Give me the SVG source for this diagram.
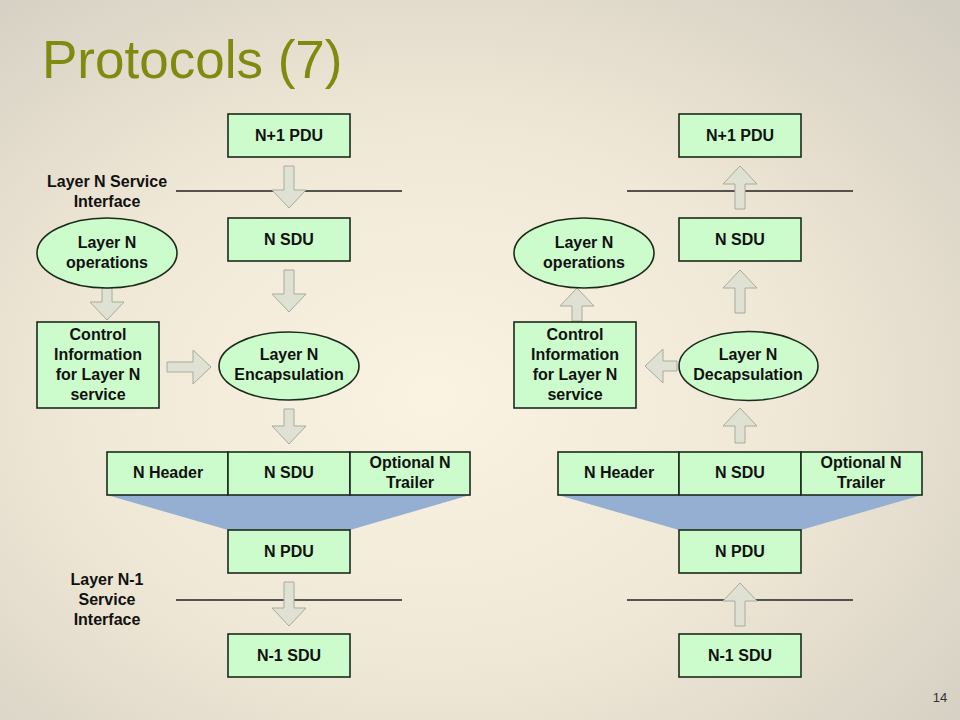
<svg xmlns="http://www.w3.org/2000/svg" width="960" height="720" viewBox="0 0 960 720">
<defs>
<radialGradient id="bg" cx="45%" cy="55%" r="75%">
<stop offset="0" stop-color="#fbf3e2"/>
<stop offset="0.5" stop-color="#f0e8d6"/>
<stop offset="1" stop-color="#d3cec2"/>
</radialGradient>
</defs>
<style>
.box{fill:#ccfccc;stroke:#1c2a1c;stroke-width:1.6}
.lbl{font-family:"Liberation Sans",Arial,sans-serif;font-weight:bold;font-size:16px;fill:#111;text-anchor:middle}
.side{font-family:"Liberation Sans",Arial,sans-serif;font-weight:bold;font-size:16px;fill:#111;text-anchor:middle}
.arr{fill:#dfe2d3;stroke:#a6ab9c;stroke-width:1;stroke-linejoin:round}
.ifl{stroke:#222;stroke-width:1.4}
.trap{fill:#95afd3}
</style>
<rect x="0" y="0" width="960" height="720" fill="url(#bg)"/>
<text x="42" y="78" font-family="'Liberation Sans',Arial,sans-serif" font-size="53" fill="#7f8a0e">Protocols (7)</text>
<text x="940" y="702" font-family="'Liberation Sans',Arial,sans-serif" font-size="13" fill="#333" text-anchor="middle">14</text>

<g id="interfaces">
<line class="ifl" x1="176" y1="191" x2="402" y2="191"/>
<line class="ifl" x1="176" y1="600" x2="402" y2="600"/>
<line class="ifl" x1="627" y1="191" x2="853" y2="191"/>
<line class="ifl" x1="627" y1="600" x2="853" y2="600"/>
<text class="side" x="107" y="187">Layer N Service</text>
<text class="side" x="107" y="207">Interface</text>
<text class="side" x="107" y="585">Layer N-1</text>
<text class="side" x="107" y="605">Service</text>
<text class="side" x="107" y="625">Interface</text>
</g>

<g id="funnels">
<polygon class="trap" points="107,495 470,495 350,530 228,530"/>
<polygon class="trap" points="558,495 922,495 801,530 679,530"/>
</g>

<g id="connectors">
<path class="arr" d="M284,166 h10 V190 h12 L289,208 L272,190 h12 Z"/>
<path class="arr" d="M284,270 h10 V294 h12 L289,312 L272,294 h12 Z"/>
<path class="arr" d="M102,288 h10 V302 h12 L107,320 L90,302 h12 Z"/>
<path class="arr" d="M167,362 H193 V350 L211,367 L193,384 V372 H167 Z"/>
<path class="arr" d="M284,409 h10 V426 h12 L289,444 L272,426 h12 Z"/>
<path class="arr" d="M284,582 h10 V608 h12 L289,626 L272,608 h12 Z"/>
<path class="arr" d="M735,209 h10 V184 h12 L740,166 L723,184 h12 Z"/>
<path class="arr" d="M735,313 h10 V288 h12 L740,270 L723,288 h12 Z"/>
<path class="arr" d="M572,321 h10 V306 h12 L577,288 L560,306 h12 Z"/>
<path class="arr" d="M677,361 H663 V349 L645,366 L663,383 V371 H677 Z"/>
<path class="arr" d="M735,443 h10 V426 h12 L740,408 L723,426 h12 Z"/>
<path class="arr" d="M735,626 h10 V601 h12 L740,583 L723,601 h12 Z"/>
</g>

<g id="L-n1pdu"><rect class="box" x="228" y="114" width="122" height="43"/><text class="lbl" x="289" y="141">N+1 PDU</text></g>
<g id="L-nsdu"><rect class="box" x="228" y="218" width="122" height="43"/><text class="lbl" x="289" y="245">N SDU</text></g>
<g id="L-ops"><ellipse class="box" cx="107" cy="253" rx="70" ry="35"/><text class="lbl" x="107" y="248">Layer N</text><text class="lbl" x="107" y="268">operations</text></g>
<g id="L-ctrl"><rect class="box" x="37" y="322" width="122" height="86"/><text class="lbl" x="98" y="340">Control</text><text class="lbl" x="98" y="360">Information</text><text class="lbl" x="98" y="380">for Layer N</text><text class="lbl" x="98" y="400">service</text></g>
<g id="L-encap"><ellipse class="box" cx="289" cy="366" rx="70" ry="34"/><text class="lbl" x="289" y="360">Layer N</text><text class="lbl" x="289" y="380">Encapsulation</text></g>
<g id="L-row">
<rect class="box" x="107" y="452" width="121" height="43"/><text class="lbl" x="168" y="478">N Header</text>
<rect class="box" x="228" y="452" width="122" height="43"/><text class="lbl" x="289" y="478">N SDU</text>
<rect class="box" x="350" y="452" width="120" height="43"/><text class="lbl" x="410" y="468">Optional N</text><text class="lbl" x="410" y="488">Trailer</text>
</g>
<g id="L-npdu"><rect class="box" x="228" y="530" width="122" height="43"/><text class="lbl" x="289" y="557">N PDU</text></g>
<g id="L-n1sdu"><rect class="box" x="228" y="634" width="122" height="43"/><text class="lbl" x="289" y="661">N-1 SDU</text></g>

<g id="R-n1pdu"><rect class="box" x="679" y="114" width="122" height="43"/><text class="lbl" x="740" y="141">N+1 PDU</text></g>
<g id="R-nsdu"><rect class="box" x="679" y="218" width="122" height="43"/><text class="lbl" x="740" y="245">N SDU</text></g>
<g id="R-ops"><ellipse class="box" cx="584" cy="253" rx="70" ry="35"/><text class="lbl" x="584" y="248">Layer N</text><text class="lbl" x="584" y="268">operations</text></g>
<g id="R-ctrl"><rect class="box" x="514" y="322" width="122" height="86"/><text class="lbl" x="575" y="340">Control</text><text class="lbl" x="575" y="360">Information</text><text class="lbl" x="575" y="380">for Layer N</text><text class="lbl" x="575" y="400">service</text></g>
<g id="R-decap"><ellipse class="box" cx="748.5" cy="366" rx="69.5" ry="34.5"/><text class="lbl" x="748" y="360">Layer N</text><text class="lbl" x="748" y="380">Decapsulation</text></g>
<g id="R-row">
<rect class="box" x="558" y="452" width="121" height="43"/><text class="lbl" x="619" y="478">N Header</text>
<rect class="box" x="679" y="452" width="122" height="43"/><text class="lbl" x="740" y="478">N SDU</text>
<rect class="box" x="801" y="452" width="121" height="43"/><text class="lbl" x="861" y="468">Optional N</text><text class="lbl" x="861" y="488">Trailer</text>
</g>
<g id="R-npdu"><rect class="box" x="679" y="530" width="122" height="43"/><text class="lbl" x="740" y="557">N PDU</text></g>
<g id="R-n1sdu"><rect class="box" x="679" y="634" width="122" height="43"/><text class="lbl" x="740" y="661">N-1 SDU</text></g>
</svg>
